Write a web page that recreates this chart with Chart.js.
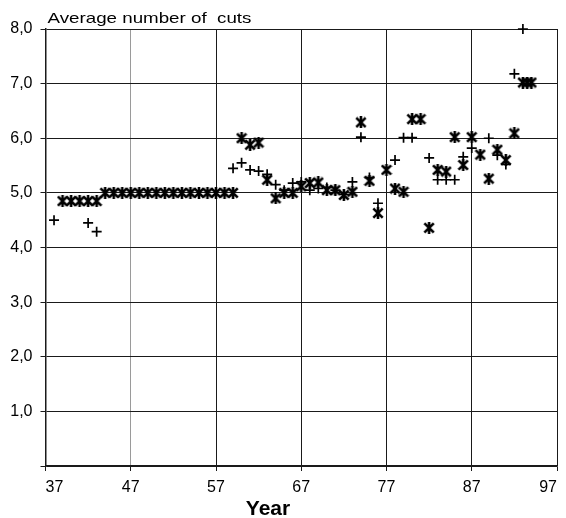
<!DOCTYPE html>
<html>
<head>
<meta charset="utf-8">
<script src="https://cdn.jsdelivr.net/npm/chart.js@4.4.1/dist/chart.umd.min.js"></script>
<style>
  html, body { margin: 0; padding: 0; background: #fff; }
  #c { display: block; }
</style>
</head>
<body>
<canvas id="c" width="566" height="518"></canvas>
<script>
// Axis ticks
const yearTicks = [37, 47, 57, 67, 77, 87, 97];
const valueTicks = [0, 1, 2, 3, 4, 5, 6, 7, 8];

// Series drawn with the six-armed star marker
const starYears = [39, 40, 41, 42, 43,
  44, 45, 46, 47, 48, 49, 50, 51, 52, 53, 54, 55, 56, 57, 58, 59,
  60, 61, 62, 63, 64, 65, 66, 67, 68, 69, 70, 71, 72, 73, 74, 75, 76, 77, 78, 79,
  80, 81, 82, 83, 84, 85, 86, 87, 88, 89, 90, 91, 92, 93, 93.5, 94];
const starValues = [4.85, 4.85, 4.85, 4.85, 4.85,
  5.0, 5.0, 5.0, 5.0, 5.0, 5.0, 5.0, 5.0, 5.0, 5.0, 5.0, 5.0, 5.0, 5.0, 5.0, 5.0,
  6.0, 5.88, 5.92, 5.24, 4.9, 5.0, 5.0, 5.12, 5.18, 5.19, 5.05, 5.05, 4.96, 5.02, 6.29, 5.22, 4.63, 5.42, 5.08, 5.02,
  6.35, 6.35, 4.36, 5.42, 5.39, 6.02, 5.51, 6.02, 5.7, 5.26, 5.79, 5.6, 6.09, 7.02, 7.02, 7.02];

// Series drawn with the plus marker
const crossYears = [38, 42, 43, 59, 60, 61, 62, 63, 64, 65, 66, 67, 68, 69, 70, 71, 72, 73,
  74, 75, 76, 78, 79, 80, 82, 83, 84, 85, 86, 87, 89, 90, 91, 92, 93];
const crossValues = [4.5, 4.45, 4.29, 5.45, 5.55, 5.42, 5.4, 5.34, 5.15, 5.05, 5.18, 5.2, 5.05, 5.08, 5.1, 5.05, 4.97, 5.2,
  6.02, 5.28, 4.81, 5.6, 6.01, 6.01, 5.64, 5.24, 5.24, 5.24, 5.66, 5.82, 6.0, 5.69, 5.52, 7.18, 8.0];

const titleText = 'Average number of  cuts';
const xAxisTitle = 'Year';

const FONT = '"Liberation Sans", Arial, Helvetica, sans-serif';

// Six-armed star: an X crossed by a vertical bar
function makeStarMarker(size, lw) {
  const c = document.createElement('canvas');
  c.width = size; c.height = size;
  const g = c.getContext('2d');
  g.strokeStyle = '#000';
  g.lineWidth = lw;
  const m = lw / 2, s = size;
  g.beginPath();
  g.moveTo(m, m); g.lineTo(s - m, s - m);
  g.moveTo(s - m, m); g.lineTo(m, s - m);
  g.moveTo(s / 2, 0); g.lineTo(s / 2, s);
  g.stroke();
  return c;
}
const starMarker = makeStarMarker(12, 2.6);

const toPoints = (xs, ys) => xs.map((x, i) => ({ x: x, y: ys[i] }));

// Chart title and x-axis caption drawn as canvas text
const captionPlugin = {
  id: 'captions',
  afterDraw(chart) {
    const { ctx, chartArea } = chart;
    ctx.save();
    ctx.fillStyle = '#000';
    ctx.textBaseline = 'alphabetic';
    ctx.textAlign = 'left';
    ctx.font = '15px ' + FONT;
    ctx.translate(chartArea.left + 2, 23);
    ctx.scale(1.25, 1);
    ctx.fillText(titleText, 0, 0);
    ctx.restore();

    ctx.save();
    ctx.fillStyle = '#000';
    ctx.textBaseline = 'alphabetic';
    ctx.textAlign = 'center';
    ctx.font = 'bold 21px ' + FONT;
    const cx = chartArea.left + (chartArea.right - chartArea.left) * 0.435;
    ctx.fillText(xAxisTitle, cx, 515);
    ctx.restore();
  }
};

new Chart(document.getElementById('c'), {
  type: 'scatter',
  data: {
    datasets: [
      {
        label: 'star',
        data: toPoints(starYears, starValues),
        pointStyle: starMarker,
        pointRadius: 6,
        pointHoverRadius: 6,
        clip: false
      },
      {
        label: 'cross',
        data: toPoints(crossYears, crossValues),
        pointStyle: 'cross',
        pointRadius: 5,
        pointHoverRadius: 5,
        borderColor: '#000',
        backgroundColor: '#000',
        pointBorderWidth: 1.7,
        clip: false
      }
    ]
  },
  options: {
    responsive: false,
    animation: false,
    devicePixelRatio: 1,
    layout: { padding: { top: 29, right: 9, left: 0, bottom: 0 } },
    plugins: {
      legend: { display: false },
      tooltip: { enabled: false },
      title: { display: false }
    },
    scales: {
      x: {
        type: 'linear',
        min: yearTicks[0],
        max: yearTicks[yearTicks.length - 1],
        afterBuildTicks: (scale) => { scale.ticks = yearTicks.map(v => ({ value: v })); },
        ticks: {
          color: '#000',
          font: { family: FONT, size: 16 },
          padding: 7,
          maxRotation: 0,
          autoSkip: false,
          align: 'inner',
          callback: (v) => String(v)
        },
        grid: {
          color: (c) => (c.tick && c.tick.value === 47 ? '#9a9a9a' : '#1a1a1a'),
          lineWidth: 1,
          drawTicks: true,
          tickLength: 5,
          tickColor: '#1a1a1a'
        },
        border: { display: true, color: '#1a1a1a', width: 1.5 },
        afterFit: (scale) => { scale.height = 52; }
      },
      y: {
        min: valueTicks[0],
        max: valueTicks[valueTicks.length - 1],
        afterBuildTicks: (scale) => { scale.ticks = valueTicks.map(v => ({ value: v })); },
        ticks: {
          color: '#000',
          font: { family: FONT, size: 16 },
          padding: 8,
          callback: (v) => (v === 0 ? '' : v.toFixed(1).replace('.', ','))
        },
        grid: {
          color: '#1a1a1a',
          lineWidth: 1,
          drawTicks: true,
          tickLength: 5
        },
        border: { display: true, color: '#1a1a1a', width: 1.5 },
        afterFit: (scale) => { scale.width = 45.5; }
      }
    }
  },
  plugins: [captionPlugin]
});
</script>
</body>
</html>
